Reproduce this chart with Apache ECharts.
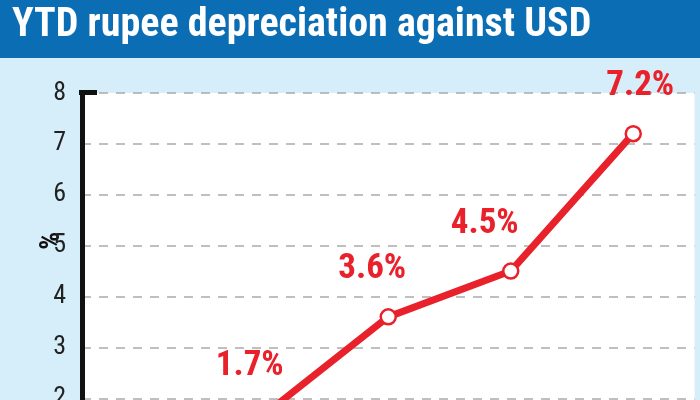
<!DOCTYPE html><html><head><meta charset="utf-8"><script src="https://cdn.jsdelivr.net/npm/echarts@6/dist/echarts.min.js"></script>
<style>html,body{margin:0;padding:0;overflow:hidden;width:700px;height:400px;background:#d6eefa}#c{width:700px;height:520px}</style></head><body><div id="c"></div><script>
const categories=['','Q1','Q2','Q3','Q4'];
const values=[null,1.7,3.6,4.5,7.2];
const labels=['','1.7%','3.6%','4.5%','7.2%'];
const labelDx=[0,-16,-16,-26,7];
const F="'Roboto Condensed','Liberation Sans Narrow','Roboto',sans-serif";
const ch=echarts.init(document.getElementById('c'));
ch.setOption({backgroundColor:'#d6eefa',animation:false,
graphic:[{type:'rect',shape:{x:0,y:0,width:700,height:58},style:{fill:'#0b6db3'},z:10},
{type:'text',left:12,top:6,style:{text:'YTD rupee depreciation against USD',fill:'#fff',font:"bold 40px "+F},z:11},
{type:'text',left:38,top:232,rotation:Math.PI/2,style:{text:'%',fill:'#111',font:"bold 28px "+F}},
{type:'rect',shape:{x:79,y:90,width:18,height:5},style:{fill:'#111'},z:5}],
grid:{left:82,right:5.5,top:93,bottom:20,backgroundColor:'#fff',show:true,borderWidth:0},
xAxis:{type:'category',data:categories,boundaryGap:true,axisLine:{show:false},axisTick:{show:false},axisLabel:{show:false}},
yAxis:{type:'value',min:0,max:8,interval:1,axisLine:{show:true,lineStyle:{color:'#111',width:5}},axisTick:{show:false},
axisLabel:{color:'#222',fontSize:26,fontFamily:F,margin:16},splitLine:{lineStyle:{color:'#aaa',type:[9,8],width:1.5}}},
series:[{type:'line',data:values.map((v,i)=>({value:v,label:{offset:[labelDx[i],-16]}})),connectNulls:false,lineStyle:{color:'#e8212b',width:7},symbol:'circle',symbolSize:15,
itemStyle:{color:'#fff',borderColor:'#e8212b',borderWidth:2.5},
label:{show:true,position:'top',formatter:p=>labels[p.dataIndex],color:'#e8212b',fontSize:35,fontWeight:'bold',fontFamily:F}}]});
</script></body></html>
